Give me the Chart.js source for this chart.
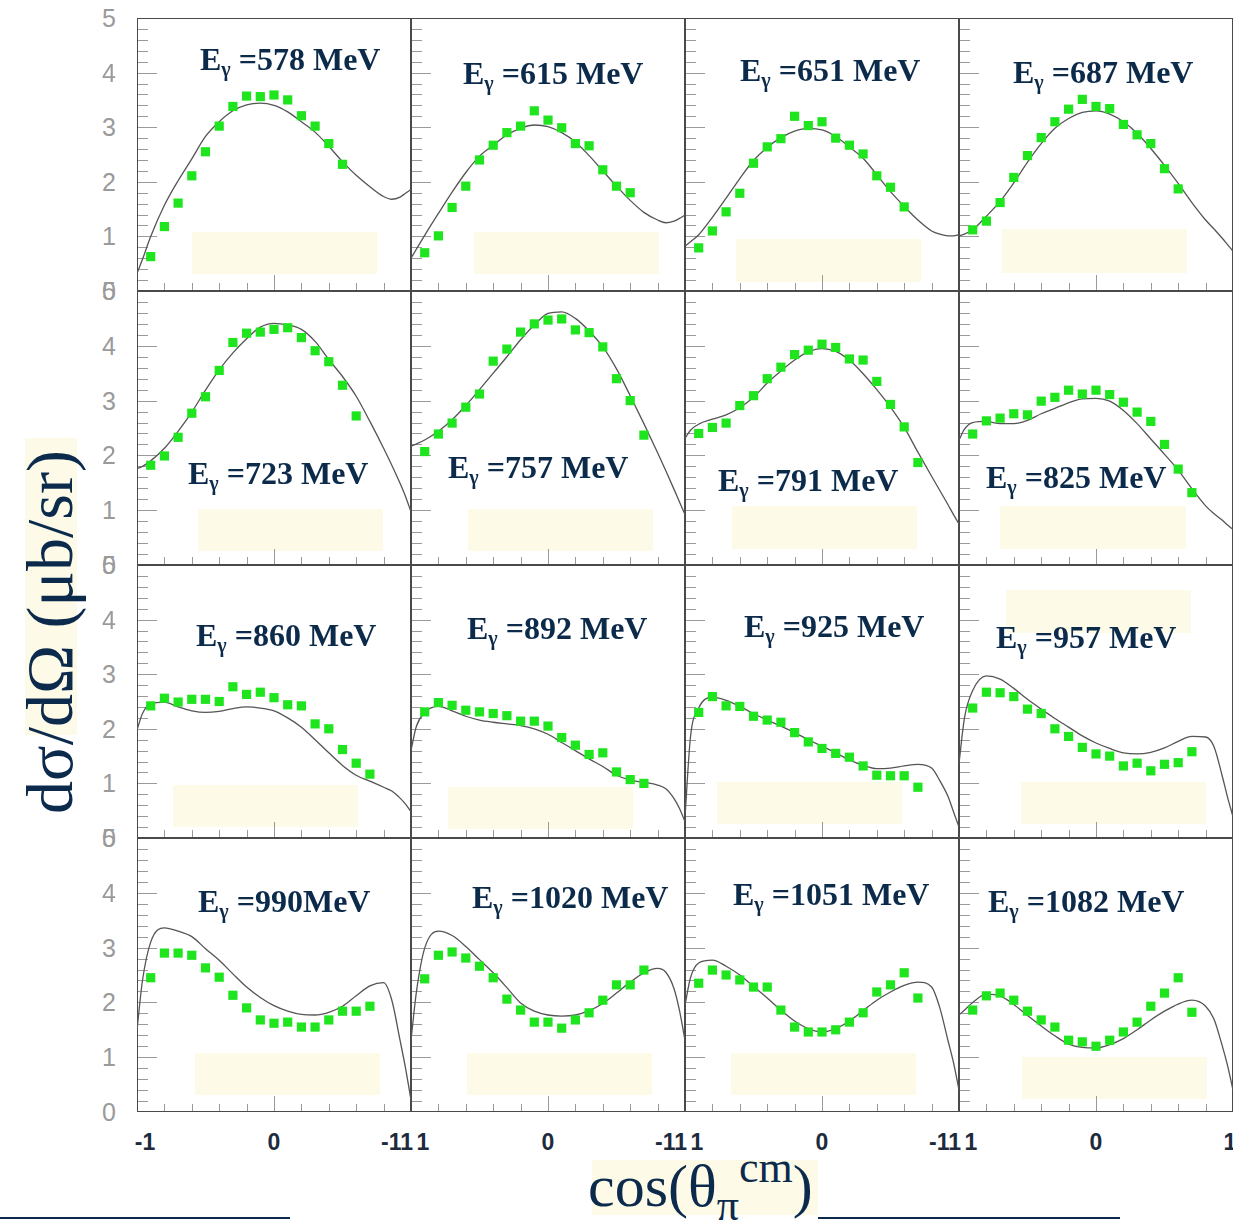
<!DOCTYPE html>
<html>
<head>
<meta charset="utf-8">
<script src="https://cdn.jsdelivr.net/npm/chart.js@4"></script>
<style>
  body { margin: 0; background: #fff; width: 1233px; height: 1227px; position: relative; overflow: hidden; }
  canvas { position: absolute; }
  .caja { position: absolute; background: #fdfbe8; }
  .etq { position: absolute; font: bold 32px "Liberation Serif", serif; color: #0c2b4b; white-space: nowrap; line-height: 32px; }
  .etq sub { font-size: 20px; vertical-align: -6px; line-height: 0; }
  .ty { position: absolute; font: 25px "Liberation Sans", sans-serif; color: #9a9a9a; line-height: 25px; transform: translate(-50%, -50%); }
  .tx { position: absolute; font: bold 23px "Liberation Sans", sans-serif; color: #1d2b3c; line-height: 23px; transform: translate(-50%, -50%); white-space: nowrap; }
  .titulo { position: absolute; font-family: "Liberation Serif", serif; color: #0b2a4c; white-space: nowrap; }
  .linea { position: absolute; height: 2px; background: #0b2a4c; }
</style>
</head>
<body>
<script>
// energias de cada panel (texto de la etiqueta)
const etiquetas = ["=578 MeV", "=615 MeV", "=651 MeV", "=687 MeV",
                   "=723 MeV", "=757 MeV", "=791 MeV", "=825 MeV",
                   "=860 MeV", "=892 MeV", "=925 MeV", "=957 MeV",
                   "=990MeV", "=1020 MeV", "=1051 MeV", "=1082 MeV"];

// cos(theta) de los puntos experimentales
const cosPuntos = [-0.9, -0.8, -0.7, -0.6, -0.5, -0.4, -0.3, -0.2, -0.1, 0, 0.1, 0.2, 0.3, 0.4, 0.5, 0.6, 0.7];

// datos (ub/sr)
const dat578 = [0.63, 1.18, 1.61, 2.11, 2.55, 3.02, 3.38, 3.57, 3.56, 3.59, 3.50, 3.21, 3.02, 2.70, 2.32];
const dat615 = [0.70, 1.01, 1.53, 1.92, 2.40, 2.67, 2.90, 3.02, 3.30, 3.13, 2.99, 2.70, 2.66, 2.22, 1.92, 1.80];
const dat651 = [0.79, 1.10, 1.45, 1.79, 2.34, 2.64, 2.79, 3.20, 3.03, 3.10, 2.80, 2.67, 2.51, 2.11, 1.90, 1.54];
const dat687 = [1.12, 1.28, 1.62, 2.08, 2.48, 2.81, 3.10, 3.33, 3.51, 3.38, 3.34, 3.05, 2.86, 2.70, 2.24, 1.87];
const dat723 = [1.82, 1.99, 2.33, 2.77, 3.07, 3.55, 4.06, 4.23, 4.25, 4.30, 4.33, 4.15, 3.91, 3.71, 3.28, 2.72];
const dat757 = [2.07, 2.39, 2.59, 2.88, 3.12, 3.72, 3.94, 4.25, 4.40, 4.47, 4.49, 4.29, 4.24, 3.98, 3.40, 3.00, 2.37];
const dat791 = [2.40, 2.51, 2.59, 2.91, 3.09, 3.40, 3.61, 3.84, 3.92, 4.03, 3.97, 3.76, 3.74, 3.35, 2.93, 2.52, 1.87];
const dat825 = [2.39, 2.63, 2.68, 2.76, 2.74, 2.99, 3.06, 3.19, 3.12, 3.19, 3.11, 2.97, 2.79, 2.62, 2.20, 1.75, 1.32];
const dat860 = [2.42, 2.56, 2.49, 2.54, 2.54, 2.50, 2.77, 2.63, 2.67, 2.57, 2.44, 2.42, 2.09, 2.00, 1.62, 1.37, 1.17];
const dat892 = [2.31, 2.48, 2.43, 2.34, 2.31, 2.28, 2.24, 2.14, 2.14, 2.05, 1.84, 1.70, 1.53, 1.56, 1.21, 1.07, 1.00];
const dat925 = [2.30, 2.59, 2.42, 2.41, 2.23, 2.16, 2.12, 1.93, 1.76, 1.64, 1.55, 1.48, 1.32, 1.15, 1.14, 1.14, 0.93];
const dat957 = [2.38, 2.67, 2.66, 2.59, 2.36, 2.28, 2.00, 1.86, 1.66, 1.54, 1.50, 1.32, 1.37, 1.23, 1.35, 1.38, 1.58];
const dat990 = [2.45, 2.90, 2.90, 2.86, 2.63, 2.46, 2.13, 1.90, 1.68, 1.62, 1.64, 1.55, 1.55, 1.68, 1.84, 1.84, 1.93];
const dat1020 = [2.43, 2.86, 2.92, 2.81, 2.66, 2.45, 2.06, 1.86, 1.64, 1.64, 1.53, 1.68, 1.81, 2.04, 2.32, 2.32, 2.59];
const dat1051 = [2.35, 2.59, 2.50, 2.41, 2.28, 2.28, 1.86, 1.55, 1.46, 1.46, 1.50, 1.64, 1.81, 2.19, 2.32, 2.54, 2.08];
const dat1082 = [1.86, 2.12, 2.17, 2.04, 1.84, 1.68, 1.55, 1.31, 1.28, 1.20, 1.31, 1.46, 1.64, 1.93, 2.17, 2.45, 1.82];

// cos(theta) de la curva teorica
const cosCurva = [-1, -0.96, -0.9, -0.8, -0.7, -0.6, -0.5, -0.4, -0.3, -0.2, -0.1, 0, 0.1, 0.2, 0.3, 0.4, 0.5, 0.6, 0.7, 0.8, 0.86, 0.92, 0.96, 1];

// curvas teoricas
const teo578 = [0.32, 0.58, 1.00, 1.57, 2.02, 2.42, 2.83, 3.10, 3.30, 3.41, 3.44, 3.40, 3.28, 3.10, 2.91, 2.65, 2.37, 2.12, 1.91, 1.73, 1.68, 1.72, 1.79, 1.86];
const teo615 = [0.60, 0.77, 1.02, 1.42, 1.81, 2.17, 2.47, 2.67, 2.86, 2.98, 3.04, 3.01, 2.90, 2.73, 2.48, 2.20, 1.92, 1.66, 1.44, 1.30, 1.25, 1.28, 1.33, 1.39];
const teo651 = [0.82, 0.90, 1.03, 1.35, 1.70, 2.06, 2.39, 2.63, 2.81, 2.93, 2.98, 2.95, 2.83, 2.64, 2.43, 2.13, 1.82, 1.55, 1.30, 1.10, 1.04, 1.01, 1.01, 1.03];
const teo687 = [1.01, 1.04, 1.12, 1.37, 1.64, 1.98, 2.36, 2.70, 2.98, 3.16, 3.27, 3.30, 3.24, 3.10, 2.89, 2.61, 2.30, 1.97, 1.62, 1.30, 1.14, 0.97, 0.85, 0.73];
const teo723 = [1.76, 1.80, 1.90, 2.13, 2.44, 2.79, 3.19, 3.56, 3.87, 4.13, 4.34, 4.41, 4.38, 4.30, 4.08, 3.75, 3.44, 3.08, 2.62, 2.13, 1.82, 1.49, 1.25, 0.97];
const teo757 = [2.17, 2.21, 2.28, 2.44, 2.65, 2.91, 3.20, 3.50, 3.80, 4.11, 4.38, 4.59, 4.62, 4.50, 4.27, 3.98, 3.58, 3.09, 2.58, 2.05, 1.72, 1.38, 1.15, 0.92];
const teo791 = [2.31, 2.46, 2.57, 2.66, 2.74, 2.87, 3.06, 3.32, 3.54, 3.74, 3.89, 3.95, 3.90, 3.74, 3.49, 3.20, 2.88, 2.51, 2.06, 1.62, 1.36, 1.10, 0.92, 0.75];
const teo825 = [2.28, 2.48, 2.60, 2.62, 2.58, 2.58, 2.64, 2.76, 2.86, 2.96, 3.03, 3.04, 2.99, 2.82, 2.58, 2.30, 2.02, 1.73, 1.39, 1.08, 0.94, 0.82, 0.73, 0.65];
const teo860 = [1.98, 2.28, 2.46, 2.49, 2.40, 2.33, 2.30, 2.32, 2.37, 2.40, 2.38, 2.33, 2.20, 2.03, 1.80, 1.56, 1.33, 1.15, 1.04, 0.93, 0.86, 0.73, 0.62, 0.48];
const teo892 = [1.61, 2.05, 2.30, 2.41, 2.33, 2.23, 2.16, 2.12, 2.09, 2.06, 2.00, 1.90, 1.75, 1.60, 1.45, 1.31, 1.15, 1.06, 1.02, 0.97, 0.90, 0.72, 0.54, 0.30];
const teo925 = [0.39, 1.85, 2.38, 2.58, 2.52, 2.41, 2.28, 2.16, 2.05, 1.93, 1.80, 1.68, 1.56, 1.43, 1.33, 1.27, 1.28, 1.32, 1.35, 1.28, 1.05, 0.76, 0.48, 0.20];
const teo957 = [1.37, 2.20, 2.70, 2.97, 2.91, 2.74, 2.54, 2.36, 2.19, 2.03, 1.87, 1.74, 1.64, 1.56, 1.54, 1.57, 1.65, 1.77, 1.86, 1.85, 1.68, 1.15, 0.75, 0.39];
const teo990 = [1.50, 2.40, 3.10, 3.36, 3.30, 3.20, 2.98, 2.77, 2.52, 2.28, 2.09, 1.94, 1.84, 1.78, 1.77, 1.82, 1.93, 2.12, 2.30, 2.36, 2.04, 1.31, 0.80, 0.22];
const teo1020 = [1.31, 2.20, 2.99, 3.30, 3.22, 3.02, 2.78, 2.54, 2.27, 1.99, 1.84, 1.77, 1.75, 1.77, 1.85, 1.98, 2.17, 2.37, 2.54, 2.62, 2.55, 2.25, 1.85, 1.31];
const teo1051 = [1.95, 2.45, 2.72, 2.77, 2.66, 2.50, 2.29, 2.08, 1.86, 1.66, 1.52, 1.46, 1.52, 1.66, 1.85, 2.04, 2.19, 2.31, 2.37, 2.28, 1.90, 1.30, 0.90, 0.40];
const teo1082 = [1.77, 1.86, 2.00, 2.15, 2.12, 1.96, 1.76, 1.57, 1.39, 1.24, 1.18, 1.17, 1.23, 1.34, 1.50, 1.68, 1.84, 1.97, 2.04, 1.93, 1.70, 1.22, 0.85, 0.40];

const datos = [dat578, dat615, dat651, dat687, dat723, dat757, dat791, dat825,
               dat860, dat892, dat925, dat957, dat990, dat1020, dat1051, dat1082];
const teorias = [teo578, teo615, teo651, teo687, teo723, teo757, teo791, teo825,
                 teo860, teo892, teo925, teo957, teo990, teo1020, teo1051, teo1082];

// ---- disposicion en la pagina ----
const colX = [137, 411, 685, 959, 1233];
const filaY = [18, 291, 565, 838, 1112];
// esquina izquierda y linea base de cada etiqueta E
const posEtq = [[200, 70], [463, 84], [740, 81], [1013, 83],
                [188, 484], [448, 478], [718, 491], [986, 488],
                [196, 646], [467, 639], [744, 637], [996, 648],
                [198, 912], [472, 908], [733, 905], [988, 912]];
// rectangulos amarillos claros
const cajas = [[192, 232, 185, 42], [474, 232, 185, 42], [736, 239, 185, 43], [1002, 229, 185, 44],
               [198, 509, 185, 42], [468, 509, 185, 42], [732, 506, 185, 43], [1000, 506, 186, 43],
               [173, 785, 185, 42], [448, 787, 185, 42], [717, 782, 185, 42], [1021, 782, 185, 42], [1006, 590, 185, 43],
               [195, 1053, 185, 42], [467, 1053, 185, 42], [731, 1053, 185, 42], [1022, 1057, 185, 42],
               [25, 438, 52, 297], [592, 1160, 226, 55]];

function agregar(tag, clase, estilo, html) {
  const el = document.createElement(tag);
  if (clase) el.className = clase;
  Object.assign(el.style, estilo);
  if (html !== undefined) el.innerHTML = html;
  document.body.appendChild(el);
  return el;
}

cajas.forEach((c) => {
  agregar("div", "caja", { left: c[0] + "px", top: c[1] + "px", width: c[2] + "px", height: c[3] + "px" });
});

// marco y marcas de cada panel
const marco = {
  id: "marco",
  beforeDatasetsDraw(chart) {
    const { ctx, chartArea: a, scales } = chart;
    ctx.save();
    ctx.strokeStyle = "#9a9a9a";
    ctx.lineWidth = 1;
    ctx.beginPath();
    for (let k = 0; k <= 25; k++) {
      const py = Math.round(scales.y.getPixelForValue(k / 5)) + 0.5;
      const largo = k % 5 === 0 ? 20 : 11;
      ctx.moveTo(a.left, py);
      ctx.lineTo(a.left + largo, py);
    }
    for (let k = 0; k <= 10; k++) {
      const px = Math.round(scales.x.getPixelForValue(-1 + k / 5)) + 0.5;
      const largo = k === 5 ? 16 : 8;
      ctx.moveTo(px, a.bottom);
      ctx.lineTo(px, a.bottom - largo);
    }
    ctx.stroke();
    ctx.strokeStyle = "#4a4a4a";
    ctx.lineWidth = 2;
    ctx.strokeRect(a.left, a.top, a.right - a.left, a.bottom - a.top);
    ctx.restore();
  },
};

const graficas = [];
datos.forEach((d, i) => {
  const col = i % 4;
  const fila = Math.floor(i / 4);
  const cv = document.createElement("canvas");
  cv.width = colX[col + 1] - colX[col];
  cv.height = filaY[fila + 1] - filaY[fila];
  cv.style.left = colX[col] + "px";
  cv.style.top = filaY[fila] + "px";
  document.body.appendChild(cv);

  const g = new Chart(cv, {
    type: "scatter",
    data: {
      datasets: [
        {
          data: teorias[i].map((y, k) => ({ x: cosCurva[k], y })),
          showLine: true,
          borderColor: "#555",
          borderWidth: 1.3,
          pointRadius: 0,
          cubicInterpolationMode: "monotone",
          order: 2,
        },
        {
          data: d.map((y, k) => ({ x: cosPuntos[k], y })),
          pointStyle: "rect",
          pointRadius: 6.5,
          backgroundColor: "#1ee51e",
          borderWidth: 0,
          order: 1,
        },
      ],
    },
    options: {
      responsive: false,
      animation: false,
      events: [],
      layout: { padding: 0, autoPadding: false },
      plugins: { legend: { display: false }, tooltip: { enabled: false } },
      scales: {
        x: { type: "linear", min: -1, max: 1, display: false },
        y: { min: 0, max: 5, display: false },
      },
    },
    plugins: [marco],
  });
  graficas.push(g);

  const p = posEtq[i];
  agregar("div", "etq", { left: p[0] + "px", top: p[1] - 27 + "px" }, "E<sub>γ</sub> " + etiquetas[i]);
});

// numeros del eje y (columna izquierda)
[0, 4, 8, 12].forEach((i, fila) => {
  const g = graficas[i];
  [0, 1, 2, 3, 4, 5].forEach((v) => {
    const y = filaY[fila] + g.scales.y.getPixelForValue(v);
    agregar("div", "ty", { left: "109px", top: y + "px" }, String(v));
  });
});

// numeros del eje x (fila de abajo)
[12, 13, 14, 15].forEach((i, col) => {
  const g = graficas[i];
  const px = (v) => colX[col] + g.scales.x.getPixelForValue(v);
  const y = "1142px";
  if (col === 0) agregar("div", "tx", { left: px(-1) + 8 + "px", top: y }, "-1");
  else agregar("div", "tx", { left: px(-1) + 12 + "px", top: y }, "1");
  agregar("div", "tx", { left: px(0) + "px", top: y }, "0");
  if (col < 3) agregar("div", "tx", { left: px(1) - 14 + "px", top: y }, "-11");
  else agregar("div", "tx", { left: px(1) - 3 + "px", top: y }, "1");
});

// titulos
agregar("div", "titulo", {
  left: "50px", top: "632px", fontSize: "66px", lineHeight: "66px",
  transform: "translate(-50%, -50%) rotate(-90deg)",
}, "dσ/dΩ (μb/sr)");
agregar("div", "titulo", { left: "588px", top: "1156px", fontSize: "60px", lineHeight: "60px" },
  'cos(θ<span style="font-size:44px;vertical-align:-14px;line-height:0">π</span><span style="font-size:44px;vertical-align:24px;line-height:0">cm</span>)');
agregar("div", "linea", { left: "0px", top: "1217px", width: "290px" });
agregar("div", "linea", { left: "818px", top: "1217px", width: "302px" });
</script>
</body>
</html>
